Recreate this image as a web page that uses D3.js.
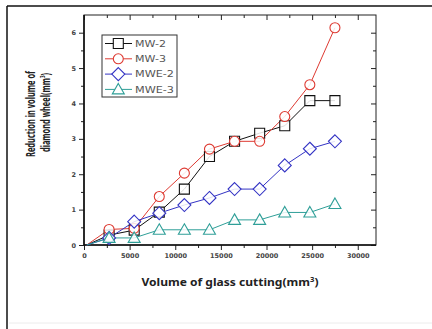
<!DOCTYPE html>
<html>
<head>
<meta charset="utf-8">
<script src="https://cdn.jsdelivr.net/npm/d3@7"></script>
<style>
  body { margin: 0; background: #fff; }
  svg { display: block; }
</style>
</head>
<body>
<script>
const width = 432;
const height = 329;

// volume of glass cut (mm3)
const xVals = [300, 2750, 5500, 8250, 11000, 13750, 16500, 19250, 22000, 24750, 27500];
const mw2  = [0, 0.28, 0.42, 0.93, 1.58, 2.50, 2.93, 3.16, 3.37, 4.08, 4.08];
const mw3  = [0, 0.44, 0.47, 1.37, 2.03, 2.71, 2.93, 2.93, 3.63, 4.53, 6.14];
const mwe2 = [0, 0.20, 0.66, 0.90, 1.13, 1.33, 1.58, 1.58, 2.25, 2.72, 2.93];
const mwe3 = [0, 0.20, 0.20, 0.43, 0.43, 0.43, 0.71, 0.71, 0.92, 0.92, 1.16];

const seriesNames = ["MW-2", "MW-3", "MWE-2", "MWE-3"];
const xTicks = [0, 5000, 10000, 15000, 20000, 25000, 30000];
const yTicks = [0, 1, 2, 3, 4, 5, 6];

const series = [
  {name: seriesNames[0], vals: mw2,  color: "#111111", shape: "square"},
  {name: seriesNames[1], vals: mw3,  color: "#de3a32", shape: "circle"},
  {name: seriesNames[2], vals: mwe2, color: "#3434c4", shape: "diamond"},
  {name: seriesNames[3], vals: mwe3, color: "#2f9f98", shape: "triangle"}
];

let svg = d3.select("body").append("svg")
  .attr("width", width)
  .attr("height", height);

// outer frame
svg.append("line").attr("x1", 7).attr("y1", 6).attr("x2", width).attr("y2", 6)
  .attr("stroke", "#111").attr("stroke-width", 1.5);
svg.append("line").attr("x1", 7).attr("y1", 6).attr("x2", 7).attr("y2", height)
  .attr("stroke", "#111").attr("stroke-width", 1.5);
svg.append("line").attr("x1", 9).attr("y1", 323).attr("x2", width).attr("y2", 323)
  .attr("stroke", "#ececec").attr("stroke-width", 1);

const pLeft = 84, pRight = 376, pTop = 15, pBottom = 245;

let x = d3.scaleLinear().domain([0, 32000]).range([pLeft, pRight]);
let y = d3.scaleLinear().domain([0, 6.5]).range([pBottom, pTop]);

// axes
svg.append("g").attr("transform", "translate(0," + pBottom + ")")
  .call(d3.axisBottom(x).tickValues(xTicks).tickSize(5).tickPadding(3).tickFormat(d3.format("d")));
svg.append("g").attr("transform", "translate(0," + pBottom + ")")
  .call(d3.axisBottom(x).tickValues(d3.range(2500, 32000, 5000)).tickSize(3).tickFormat(""));
svg.append("g").attr("transform", "translate(0," + pTop + ")")
  .call(d3.axisBottom(x).tickValues(xTicks).tickSize(5).tickFormat(""));
svg.append("g").attr("transform", "translate(0," + pTop + ")")
  .call(d3.axisBottom(x).tickValues(d3.range(2500, 32000, 5000)).tickSize(3).tickFormat(""));

svg.append("g").attr("transform", "translate(" + pLeft + ",0)")
  .call(d3.axisLeft(y).tickValues(yTicks).tickSize(5).tickPadding(3).tickFormat(d3.format("d")));
svg.append("g").attr("transform", "translate(" + pLeft + ",0)")
  .call(d3.axisLeft(y).tickValues(d3.range(0.5, 6.5, 1)).tickSize(3).tickFormat(""));
svg.append("g").attr("transform", "translate(" + pRight + ",0)")
  .call(d3.axisRight(y).tickValues(yTicks).tickSize(-5).tickFormat(""));
svg.append("g").attr("transform", "translate(" + pRight + ",0)")
  .call(d3.axisRight(y).tickValues(d3.range(0.5, 6.5, 1)).tickSize(-3).tickFormat(""));

svg.selectAll(".domain").remove();
svg.selectAll(".tick line").attr("stroke", "#222").attr("stroke-width", 1);
svg.selectAll(".tick text")
  .attr("font-family", "'DejaVu Sans', sans-serif")
  .attr("font-size", 6.5)
  .attr("font-weight", "bold")
  .attr("fill", "#444");

// plot frame
svg.append("rect")
  .attr("x", pLeft).attr("y", pTop)
  .attr("width", pRight - pLeft).attr("height", pBottom - pTop)
  .attr("fill", "none").attr("stroke", "#222").attr("stroke-width", 1);
svg.append("line").attr("x1", pLeft).attr("y1", pTop).attr("x2", pLeft).attr("y2", pBottom)
  .attr("stroke", "#111").attr("stroke-width", 1.6);
svg.append("line").attr("x1", pLeft).attr("y1", pBottom).attr("x2", pRight).attr("y2", pBottom)
  .attr("stroke", "#111").attr("stroke-width", 1.4);

// marker path centred on 0,0
function markerPath(shape) {
  if (shape === "square") return "M-5,-5H5V5H-5Z";
  if (shape === "circle") return d3.symbol(d3.symbolCircle, Math.PI * 25)();
  if (shape === "diamond") return "M0,-6.5L6.5,0L0,6.5L-6.5,0Z";
  return "M0,-6L6,4.5H-6Z";
}

let line = d3.line()
  .x(function(d) { return x(d[0]); })
  .y(function(d) { return y(d[1]); });

series.forEach(function(s) {
  let pts = xVals.map(function(v, i) { return [v, s.vals[i]]; });
  svg.append("path")
    .datum(pts)
    .attr("d", line)
    .attr("fill", "none")
    .attr("stroke", s.color)
    .attr("stroke-width", 1);
});

series.forEach(function(s) {
  let pts = xVals.map(function(v, i) { return [v, s.vals[i]]; }).slice(1);
  svg.selectAll(null)
    .data(pts)
    .enter().append("path")
    .attr("d", markerPath(s.shape))
    .attr("transform", function(d) { return "translate(" + x(d[0]) + "," + y(d[1]) + ")"; })
    .attr("fill", "#fff")
    .attr("fill-opacity", 0.85)
    .attr("stroke", s.color)
    .attr("stroke-width", 1.1);
});

// legend
let legend = svg.append("g");
legend.append("rect")
  .attr("x", 102).attr("y", 35).attr("width", 75).attr("height", 62)
  .attr("fill", "#fff").attr("stroke", "#333").attr("stroke-width", 1);
const legendW = [31, 31, 39, 39];
series.forEach(function(s, i) {
  let ly = 43.5 + i * 15.3;
  legend.append("line")
    .attr("x1", 105).attr("x2", 132).attr("y1", ly).attr("y2", ly)
    .attr("stroke", s.color).attr("stroke-width", 1);
  legend.append("path")
    .attr("d", markerPath(s.shape))
    .attr("transform", "translate(118.3," + ly + ")")
    .attr("fill", "#fff").attr("stroke", s.color).attr("stroke-width", 1.1);
  legend.append("text")
    .attr("x", 135).attr("y", ly + 3.3)
    .attr("font-family", "'DejaVu Sans', sans-serif")
    .attr("font-size", 9)
    .attr("fill", "#555")
    .attr("textLength", legendW[i])
    .attr("lengthAdjust", "spacingAndGlyphs")
    .text(s.name);
});

// axis titles
let xt = svg.append("text")
  .attr("x", 230).attr("y", 286)
  .attr("text-anchor", "middle")
  .attr("font-family", "'Noto Sans', sans-serif")
  .attr("font-weight", "bold")
  .attr("font-size", 11)
  .attr("fill", "#222")
  .attr("textLength", 177)
  .attr("lengthAdjust", "spacingAndGlyphs");
xt.append("tspan").text("Volume of glass cutting(mm");
xt.append("tspan").attr("dy", -4).attr("font-size", 7).text("3");
xt.append("tspan").attr("dy", 4).text(")");

svg.append("text")
  .attr("transform", "translate(34.5,114) rotate(-90)")
  .attr("text-anchor", "middle")
  .attr("font-family", "'Noto Sans', sans-serif")
  .attr("font-weight", "bold")
  .attr("font-size", 11.5)
  .attr("fill", "#222")
  .attr("textLength", 86)
  .attr("lengthAdjust", "spacingAndGlyphs")
  .text("Reduction in volume of");

let yt2 = svg.append("text")
  .attr("transform", "translate(49.5,112.5) rotate(-90)")
  .attr("text-anchor", "middle")
  .attr("font-family", "'Noto Sans', sans-serif")
  .attr("font-weight", "bold")
  .attr("font-size", 11.5)
  .attr("fill", "#222")
  .attr("textLength", 79)
  .attr("lengthAdjust", "spacingAndGlyphs");
yt2.append("tspan").text("diamond wheel(mm");
yt2.append("tspan").attr("dy", -4.5).attr("font-size", 7).text("3");
yt2.append("tspan").attr("dy", 4.5).text(")");
</script>
</body>
</html>
